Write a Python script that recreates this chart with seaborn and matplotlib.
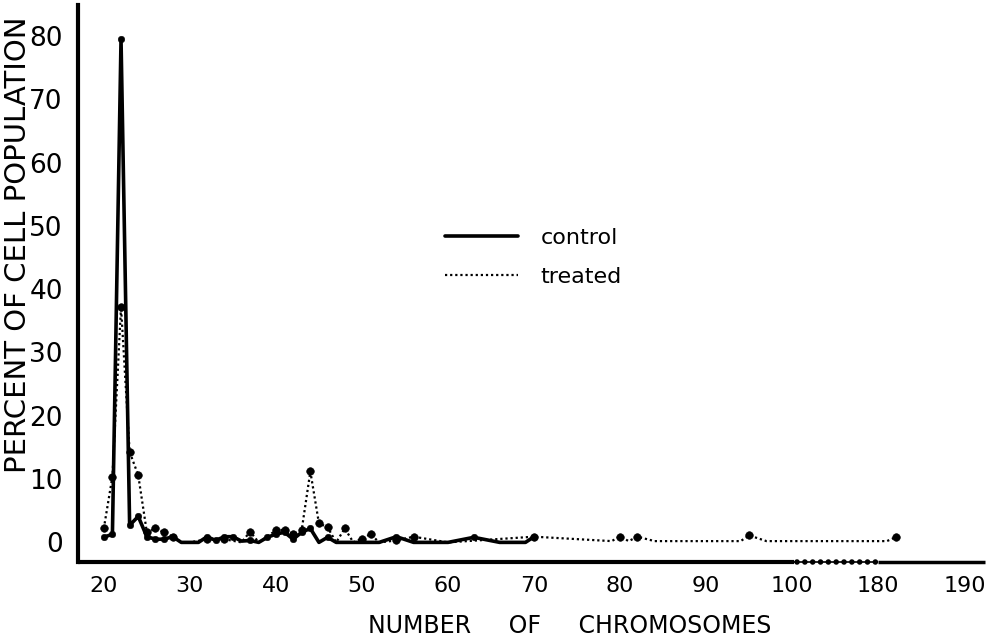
import numpy as np
import pandas as pd
import matplotlib
matplotlib.use("Agg")
import matplotlib.pyplot as plt
import seaborn as sns

# ---- data ----
control_x = [20, 21, 22, 23, 24, 25, 26, 27, 28, 29, 30, 31, 32, 33, 34, 35, 36, 37, 38,
             39, 40, 41, 42, 43, 44, 45, 46, 47, 48, 50, 52, 54, 56, 60, 63, 66, 69, 70]
control_y = [0.8, 1.3, 79.5, 2.7, 4.1, 0.9, 0.5, 0.5, 0.9, 0, 0, 0, 0.9, 0.3, 0.9, 0.9, 0.2, 0.3, 0,
             0.8, 1.3, 1.6, 0.5, 1.6, 2.2, 0, 0.8, 0, 0, 0, 0, 0.9, 0, 0, 0.8, 0, 0, 0.9]

treated_x = [20, 21, 22, 23, 24, 25, 26, 27, 28, 29, 30, 32, 34, 36, 37, 38, 40, 41, 42, 43,
             44, 45, 46, 47, 48, 49, 50, 51, 52, 54, 56, 60, 70, 79, 80, 81, 82, 84, 94, 95,
             97, 181, 182]
treated_y = [2.2, 10.4, 37.2, 14.3, 10.6, 1.6, 2.2, 1.6, 0.9, 0, 0, 0.5, 0.5, 0, 1.7, 0, 1.9, 2.0, 1.3, 2.0,
             11.2, 3.0, 2.4, 0, 2.2, 0, 0.6, 1.3, 0, 0.3, 0.9, 0, 0.9, 0.2, 0.9, 0.2, 0.9, 0.2, 0.2, 1.1,
             0.2, 0.2, 0.8]

x_ticks = [20, 30, 40, 50, 60, 70, 80, 90, 100, 180, 190]
x_tick_labels = ["20", "30", "40", "50", "60", "70", "80", "90", "100", "180", "190"]
y_ticks = [0, 10, 20, 30, 40, 50, 60, 70, 80]
y_tick_labels = ["0", "10", "20", "30", "40", "50", "60", "70", "80"]

# ---- style ----
sns.set_style("white")
plt.rcParams["font.family"] = ["DejaVu Sans"]

fig = plt.figure(figsize=(9.92, 6.43), dpi=100)
ax = fig.add_axes([78 / 992, 81 / 643, 907 / 992, 557 / 643])


# broken x axis: 100..180 compressed into one tick interval
def fwd(x):
    x = np.asarray(x, dtype=float)
    return np.where(x <= 100, x, np.where(x >= 180, x - 70, 100 + (x - 100) * 0.125))


def inv(p):
    p = np.asarray(p, dtype=float)
    return np.where(p <= 100, p, np.where(p >= 110, p + 70, 100 + (p - 100) * 8))


ax.set_xscale("function", functions=(fwd, inv))

df_c = pd.DataFrame({"chromosomes": control_x, "percent": control_y})
df_t = pd.DataFrame({"chromosomes": treated_x, "percent": treated_y})

sns.lineplot(data=df_c, x="chromosomes", y="percent", color="black", lw=2.6,
             label="control", ax=ax, estimator=None, sort=False)
sns.lineplot(data=df_t, x="chromosomes", y="percent", color="black", lw=1.6,
             linestyle=(0, (1, 1.3)), label="treated", ax=ax, estimator=None, sort=False)

# markers at the non-baseline points
mc = df_c[df_c["percent"] > 0.25]
mt = df_t[df_t["percent"] > 0.25]
sns.scatterplot(data=mc, x="chromosomes", y="percent", color="black", s=22,
                edgecolor="black", ax=ax, legend=False, zorder=5)
sns.scatterplot(data=mt, x="chromosomes", y="percent", color="black", s=30,
                edgecolor="black", ax=ax, legend=False, zorder=5)

ax.set_xlim(17, 192.4)
ax.set_ylim(-3.1, 84.9)

ax.set_xticks(x_ticks)
ax.set_xticklabels(x_tick_labels)
ax.set_yticks(y_ticks)
ax.set_yticklabels(y_tick_labels)
ax.minorticks_off()

ax.tick_params(axis="x", direction="in", length=4, width=1, pad=10, labelsize=16, colors="black")
ax.tick_params(axis="y", length=0, pad=11, labelsize=19, colors="black")

for s in ["top", "right", "bottom"]:
    ax.spines[s].set_visible(False)
ax.spines["left"].set_linewidth(3)
ax.spines["left"].set_color("black")

# bottom axis drawn with a dotted break between 100 and 180
xt = ax.get_xaxis_transform()
ax.plot([17, 102], [0, 0], color="black", lw=3, transform=xt, clip_on=False, solid_capstyle="butt")
ax.plot([102, 180], [0, 0], color="black", lw=1.2, transform=xt, clip_on=False, solid_capstyle="butt")
ax.plot([104, 179], [0, 0], color="black", lw=4, ls=(0, (0.01, 1.4)), transform=xt,
        clip_on=False, dash_capstyle="round")
ax.plot([180, 192.4], [0, 0], color="black", lw=2.5, transform=xt, clip_on=False, solid_capstyle="butt")

ax.set_xlabel("NUMBER     OF     CHROMOSOMES", fontsize=17, color="black")
ax.set_ylabel("PERCENT OF CELL POPULATION", fontsize=21, color="black")
ax.xaxis.set_label_coords((570 - 78) / 907, (562 - 626) / 557)
ax.yaxis.set_label_coords((18 - 78) / 907, (562 - 245) / 557)
ax.xaxis.label.set_va("center")
ax.yaxis.label.set_va("center")

leg = ax.legend(loc="upper left", bbox_to_anchor=(445 / 992, 1 - 228 / 643),
                bbox_transform=fig.transFigure, frameon=False, fontsize=16,
                handlelength=3.3, handletextpad=1.0, labelspacing=0.85,
                borderpad=0, borderaxespad=0)
for t in leg.get_texts():
    t.set_color("black")

fig.savefig("out.png", dpi=100)
